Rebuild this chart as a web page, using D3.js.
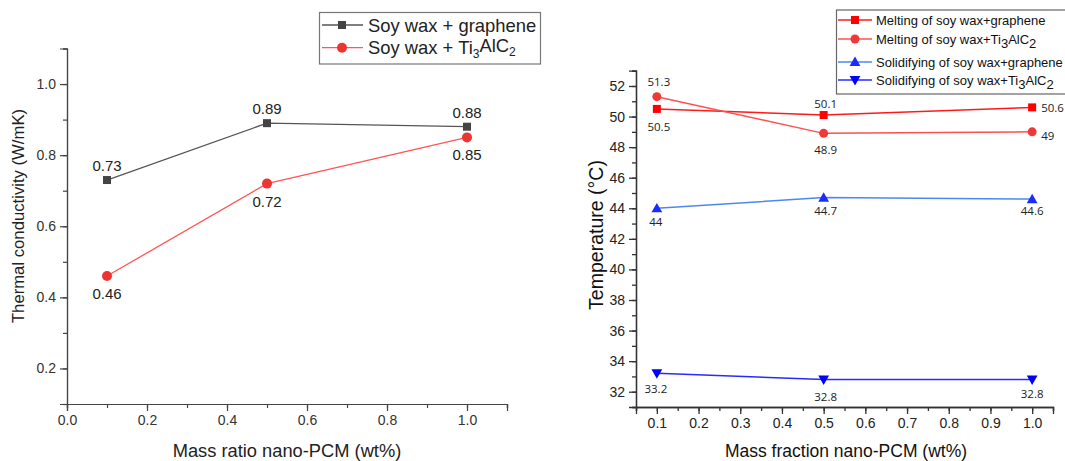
<!DOCTYPE html>
<html><head><meta charset="utf-8">
<script src="https://cdn.jsdelivr.net/npm/d3@7"></script>
<style>body{margin:0;background:#fff}svg{display:block}text{font-family:Arial,"Liberation Sans",sans-serif}</style>
</head><body>
<svg id="c" width="1065" height="461"></svg>
<script>
// Left chart data
const xLeft = [0.1, 0.5, 1.0];
const condGraphene = [0.73, 0.89, 0.88];
const condTi = [0.46, 0.72, 0.85];
const leftLegend = ["Soy wax + graphene", "Soy wax + Ti3AlC2"];
const leftXTicks = [0.0, 0.2, 0.4, 0.6, 0.8, 1.0];
const leftYTicks = [0.2, 0.4, 0.6, 0.8, 1.0];

// Right chart data
const xRight = [0.1, 0.5, 1.0];
const meltGraphene = [50.5, 50.1, 50.6];
const meltTi = [51.3, 48.9, 49];
const solidGraphene = [44, 44.7, 44.6];
const solidTi = [33.2, 32.8, 32.8];
const rightLegend = ["Melting of soy wax+graphene", "Melting of soy wax+Ti3AlC2", "Solidifying of soy wax+graphene", "Solidifying of soy wax+Ti3AlC2"];
const rightXTicks = [0.1, 0.2, 0.3, 0.4, 0.5, 0.6, 0.7, 0.8, 0.9, 1.0];
const rightYTicks = [32, 34, 36, 38, 40, 42, 44, 46, 48, 50, 52];

const svg = d3.select("#c");

function richText(sel, str, subSize) {
  const parts = str.split(/(Ti3AlC2)/);
  parts.forEach(p => {
    if (p === "Ti3AlC2") {
      sel.append("tspan").text("Ti");
      sel.append("tspan").attr("font-size", subSize).attr("dy", "0.3em").text("3");
      sel.append("tspan").attr("dy", "-0.3em").text("AlC");
      sel.append("tspan").attr("font-size", subSize).attr("dy", "0.3em").text("2");
    } else if (p.length) sel.append("tspan").text(p);
  });
}

function marker(g, shape, x, y, size, fill) {
  if (shape === "square") g.append("rect").attr("x", x - size/2).attr("y", y - size/2).attr("width", size).attr("height", size).attr("fill", fill);
  else if (shape === "circle") g.append("circle").attr("cx", x).attr("cy", y).attr("r", size/2).attr("fill", fill);
  else if (shape === "up") g.append("path").attr("d", `M${x},${y-size*0.6}L${x+size*0.6},${y+size*0.45}L${x-size*0.6},${y+size*0.45}Z`).attr("fill", fill);
  else if (shape === "down") g.append("path").attr("d", `M${x},${y+size*0.6}L${x+size*0.6},${y-size*0.45}L${x-size*0.6},${y-size*0.45}Z`).attr("fill", fill);
}

// ---------- LEFT CHART ----------
{
  const x = d3.scaleLinear().domain([0, 1.1]).range([67, 507]);
  const y = d3.scaleLinear().domain([0.1, 1.1]).range([404, 48.5]);
  const g = svg.append("g");
  const axisColor = "#444";
  const xa = g.append("g").attr("transform", "translate(0,404)")
    .call(d3.axisBottom(x).tickValues(d3.range(0, 1.101, 0.1)).tickSize(4).tickFormat(""));
  const xb = g.append("g").attr("transform", "translate(0,404)")
    .call(d3.axisBottom(x).tickValues(leftXTicks).tickSize(7).tickPadding(4).tickFormat(d3.format(".1f")));
  const ya = g.append("g").attr("transform", "translate(67,0)")
    .call(d3.axisLeft(y).tickValues(d3.range(0.1, 1.101, 0.1)).tickSize(4).tickFormat(""));
  const yb = g.append("g").attr("transform", "translate(67,0)")
    .call(d3.axisLeft(y).tickValues(leftYTicks).tickSize(7).tickPadding(4).tickFormat(d3.format(".1f")));
  [xa, xb, ya, yb].forEach(a => {
    a.selectAll("path,line").attr("stroke", axisColor).attr("stroke-width", 1.2);
    a.selectAll("text").attr("font-size", 14).attr("fill", "#333").style("font-family", "Arial");
  });
  g.append("text").attr("transform", "translate(24,216) rotate(-90)").attr("text-anchor", "middle")
    .attr("font-size", 16.7).attr("fill", "#222").text("Thermal conductivity (W/mK)");
  g.append("text").attr("x", 287).attr("y", 456.5).attr("text-anchor", "middle")
    .attr("font-size", 18.3).attr("fill", "#222").text("Mass ratio nano-PCM (wt%)");

  const line = d3.line().x(d => x(d[0])).y(d => y(d[1]));
  const series = [
    {vals: condGraphene, color: "#555", mcolor: "#444", shape: "square", size: 8, pos: "above"},
    {vals: condTi, color: "#f55", mcolor: "#ee3333", shape: "circle", size: 10, pos: "below"}
  ];
  series.forEach(s => {
    const pts = xLeft.map((xv, i) => [xv, s.vals[i]]);
    g.append("path").attr("d", line(pts)).attr("fill", "none").attr("stroke", s.color).attr("stroke-width", 1.3);
    pts.forEach(p => marker(g, s.shape, x(p[0]), y(p[1]), s.size, s.mcolor));
    pts.forEach(p => g.append("text").attr("x", x(p[0])).attr("y", y(p[1]) + (s.pos === "above" ? -9 : 23))
      .attr("text-anchor", "middle").attr("font-size", 15).attr("fill", "#222").text(p[1]));
  });
  const lg = g.append("g");
  lg.append("rect").attr("x", 319.5).attr("y", 12.5).attr("width", 221).attr("height", 51.5).attr("fill", "#fff").attr("stroke", "#777").attr("stroke-width", 1.2);
  series.forEach((s, i) => {
    const ly = 25 + i * 22.7;
    lg.append("line").attr("x1", 322).attr("x2", 363).attr("y1", ly).attr("y2", ly).attr("stroke", s.color).attr("stroke-width", 1.3);
    marker(lg, s.shape, 342, ly, s.size, s.mcolor);
    const t = lg.append("text").attr("x", 368).attr("y", ly + 6.5).attr("font-size", 18.4).attr("fill", "#222");
    richText(t, leftLegend[i], 12);
  });
}

// ---------- RIGHT CHART ----------
{
  const x = d3.scaleLinear().domain([0.05, 1.05]).range([636, 1053]);
  const y = d3.scaleLinear().domain([31, 53]).range([407, 70.7]);
  const g = svg.append("g");
  const axisColor = "#333";
  const xa = g.append("g").attr("transform", "translate(0,407)")
    .call(d3.axisBottom(x).tickValues(d3.range(0.05, 1.051, 0.05)).tickSize(4).tickFormat(""));
  const xb = g.append("g").attr("transform", "translate(0,407)")
    .call(d3.axisBottom(x).tickValues(rightXTicks).tickSize(7).tickPadding(4).tickFormat(d3.format(".1f")));
  const ya = g.append("g").attr("transform", "translate(636,0)")
    .call(d3.axisLeft(y).tickValues(d3.range(31, 53.01, 1)).tickSize(4).tickFormat(""));
  const yb = g.append("g").attr("transform", "translate(636,0)")
    .call(d3.axisLeft(y).tickValues(rightYTicks).tickSize(7).tickPadding(4).tickFormat(d3.format("d")));
  [xa, xb, ya, yb].forEach(a => {
    a.selectAll("path,line").attr("stroke", axisColor).attr("stroke-width", 1.3);
    a.selectAll("text").attr("font-size", 14).attr("fill", "#222").style("font-family", "Arial");
  });
  g.append("text").attr("transform", "translate(603,235) rotate(-90)").attr("text-anchor", "middle")
    .attr("font-size", 19.5).attr("fill", "#111").text("Temperature (°C)");
  g.append("text").attr("x", 846).attr("y", 457).attr("text-anchor", "middle")
    .attr("font-size", 17.5).attr("fill", "#111").text("Mass fraction nano-PCM (wt%)");

  const line = d3.line().x(d => x(d[0])).y(d => y(d[1]));
  // label placement: [dx, dy, anchor]
  const series = [
    {vals: meltGraphene, color: "#ff1a1a", mcolor: "#ff0000", shape: "square", size: 8,
     off: [[2, 22.5, "middle"], [2, -7, "middle"], [9, 5, "start"]]},
    {vals: meltTi, color: "#ff5050", mcolor: "#f03838", shape: "circle", size: 9,
     off: [[2, -11, "middle"], [2, 20.5, "middle"], [9, 8, "start"]]},
    {vals: solidGraphene, color: "#4d88f0", mcolor: "#1a2cff", shape: "up", size: 9,
     off: [[-1, 18, "middle"], [2, 17.5, "middle"], [0, 15.5, "middle"]]},
    {vals: solidTi, color: "#2a2aff", mcolor: "#0000ff", shape: "down", size: 9,
     off: [[-1, 20, "middle"], [2, 22, "middle"], [0, 19, "middle"]]}
  ];
  series.forEach(s => {
    const pts = xRight.map((xv, i) => [xv, s.vals[i]]);
    g.append("path").attr("d", line(pts)).attr("fill", "none").attr("stroke", s.color).attr("stroke-width", 1.5);
    pts.forEach(p => marker(g, s.shape, x(p[0]), y(p[1]), s.size, s.mcolor));
    pts.forEach((p, i) => g.append("text").attr("x", x(p[0]) + s.off[i][0]).attr("y", y(p[1]) + s.off[i][1])
      .attr("text-anchor", s.off[i][2]).attr("font-size", 11.5).attr("fill", "#222")
      .style("font-family", "'Open Sans', sans-serif").text(p[1]));
  });
  const lg = g.append("g");
  lg.append("rect").attr("x", 836.5).attr("y", 10).attr("width", 240).attr("height", 84).attr("fill", "#fff").attr("stroke", "#666").attr("stroke-width", 1.2);
  const lys = [20, 39, 62, 80];
  series.forEach((s, i) => {
    const ly = lys[i];
    lg.append("line").attr("x1", 838).attr("x2", 872).attr("y1", ly).attr("y2", ly).attr("stroke", s.color).attr("stroke-width", 1.5);
    marker(lg, s.shape, 855, ly, s.size, s.mcolor);
    const t = lg.append("text").attr("x", 876).attr("y", ly + 5).attr("font-size", 13).attr("fill", "#111");
    richText(t, rightLegend[i], 13);
  });
}
</script>
</body></html>
